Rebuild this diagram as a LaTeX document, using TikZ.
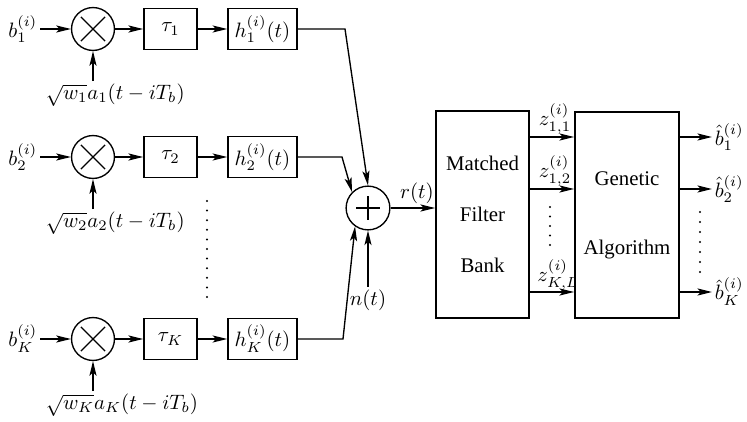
\documentclass[tikz,border=0pt]{standalone}
\usepackage{fontspec}
\newfontfamily\tms{Liberation Serif}
\usetikzlibrary{arrows.meta,calc}
\begin{document}
\begin{tikzpicture}[x=0.48pt,y=-0.48pt,
  line width=0.65pt,
  >={Stealth[length=7pt,width=3.4pt,inset=1.6pt]},
  mult/.style={circle,draw,minimum size=20.6pt,inner sep=0pt,
    path picture={
      \draw ([shift={(-5.8pt,-5.8pt)}]path picture bounding box.center) -- ([shift={(5.8pt,5.8pt)}]path picture bounding box.center);
      \draw ([shift={(-5.8pt,5.8pt)}]path picture bounding box.center) -- ([shift={(5.8pt,-5.8pt)}]path picture bounding box.center);}},
  addr/.style={circle,draw,minimum size=21pt,inner sep=0pt,
    path picture={
      \draw[line width=0.5pt] ([shift={(-5.7pt,0pt)}]path picture bounding box.center) -- ([shift={(5.7pt,0pt)}]path picture bounding box.center);
      \draw[line width=0.5pt] ([shift={(0pt,-5.7pt)}]path picture bounding box.center) -- ([shift={(0pt,5.7pt)}]path picture bounding box.center);}},
  tbox/.style={draw,line width=0.9pt,minimum width=25.4pt,minimum height=19.7pt,inner sep=0pt},
  hbox/.style={draw,line width=0.9pt,minimum width=33pt,minimum height=19.7pt,inner sep=0pt},
  bigbox/.style={draw,line width=0.9pt,inner sep=0pt,align=center,font=\tms},
  lab/.style={inner sep=1pt},
  dotc/.style={fill=black}
]
\useasboundingbox (0,0) rectangle (747,422);

\foreach \k/\y/\s in {1/29/1, 2/157/2, 3/339/K} {
  \node[lab,anchor=east] (b\k) at (40,\y) {$b_{\s}^{(i)}$};
  \node[mult] (m\k) at (93,\y) {};
  \node[tbox] (t\k) at (170.5,\y) {$\tau_{\s}$};
  \node[hbox] (h\k) at (262.5,\y) {$h_{\s}^{(i)}(t)$};
  \node[lab,anchor=west] (w\k) at (43,\y+66) {$\sqrt{w_{\s}}a_{\s}(t-iT_b)$};
  \draw[->] (b\k) -- (m\k);
  \draw[->] (m\k) -- (t\k);
  \draw[->] (t\k) -- (h\k);
  \draw[->] (w\k.north -| m\k) -- (m\k);
}

% vertical dots (left)
\foreach \j in {0,...,10} \fill[dotc] (207,201+9.6*\j) circle (0.55pt);

% adder
\node[addr] (s) at (368,208) {};
\coordinate (c1) at (345,29);
\coordinate (c2) at (342,157);
\coordinate (c3) at (343,339);
\draw[->] (h1) -- (c1) -- (s.north);
\draw[->] (h2) -- (c2) -- (s.135);
\draw[->] (h3) -- (c3) -- (s.235);
\node[lab] (n) at (368,300) {$n(t)$};
\draw[->] (n) -- (s);

% matched filter bank
\node[bigbox,minimum width=44.6pt,minimum height=99.4pt] (mfb) at (482.5,214.5) {Matched\\[12.5pt]Filter\\[12.5pt]Bank};
\draw[->] (s.east) -- (s.east -| mfb.west) node[midway,above,inner sep=1.5pt,xshift=2pt] (r) {$r(t)$};

% z labels
\node[lab] (z1) at (555,119) {$z_{1,1}^{(i)}$};
\node[lab] (z2) at (555,171) {$z_{1,2}^{(i)}$};
\node[lab] (z3) at (558,275) {$z_{K,L}^{(i)}$};

% genetic algorithm
\node[bigbox,fill=white,minimum width=49.9pt,minimum height=98.9pt] (ga) at (627,215) {Genetic\\[21pt]Algorithm};

\coordinate (zy1) at (0,137);
\coordinate (zy2) at (0,189);
\coordinate (zy3) at (0,292);
\foreach \k in {1,2,3} \draw[->] (zy\k -| mfb.east) -- (zy\k -| ga.west);

\foreach \j in {0,...,4} \fill[dotc] (550,207+9.5*\j) circle (0.55pt);

% outputs
\node[lab,anchor=west] (bh1) at (712,137) {$\hat{b}_1^{(i)}$};
\node[lab,anchor=west] (bh2) at (712,189) {$\hat{b}_2^{(i)}$};
\node[lab,anchor=west] (bh3) at (712,292) {$\hat{b}_K^{(i)}$};
\foreach \k in {1,2,3} \draw[->] (zy\k -| ga.east) -- (bh\k.west);

\foreach \j in {0,...,6} \fill[dotc] (700,212+10*\j) circle (0.55pt);
\end{tikzpicture}
\end{document}
